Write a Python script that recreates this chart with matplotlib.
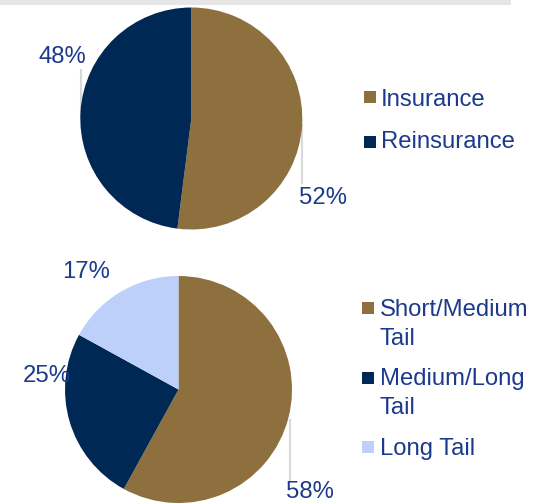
import matplotlib
matplotlib.use("Agg")
import matplotlib.pyplot as plt
from matplotlib.patches import Rectangle

plt.rcParams['font.family'] = ['Liberation Sans', 'DejaVu Sans']

# Data
top_labels = ["Insurance", "Reinsurance"]
top_values = [52, 48]
bottom_labels = ["Short/Medium\nTail", "Medium/Long\nTail", "Long Tail"]
bottom_values = [58, 25, 17]

BROWN = "#8E6F3E"
NAVY = "#002855"
LIGHT = "#BDD0FA"
TEXT = "#1C3A8C"
LINE = "#D9D9D9"

top_colors = [BROWN, NAVY]
bottom_colors = [BROWN, NAVY, LIGHT]

W, H = 539, 504
fig = plt.figure(figsize=(W / 100, H / 100), dpi=100)
ax = fig.add_axes([0, 0, 1, 1])

def Y(py):
    return H - py

# top gray band
ax.add_patch(Rectangle((0, Y(5)), 511, 5, color="#E6E6E6", lw=0, zorder=0))

# Top pie
ax.pie(top_values, colors=top_colors, startangle=90, counterclock=False,
       center=(191.3, Y(118.5)), radius=111, frame=True,
       wedgeprops=dict(linewidth=0))
# Bottom pie
ax.pie(bottom_values, colors=bottom_colors, startangle=90, counterclock=False,
       center=(178.5, Y(389.5)), radius=113.5, frame=True,
       wedgeprops=dict(linewidth=0))
ax.set_xlim(0, W)
ax.set_ylim(0, H)
ax.set_aspect('equal')
ax.axis('off')

# leader lines
ax.plot([80.5, 80.5], [Y(70), Y(112)], color=LINE, lw=1.5, zorder=0)
ax.plot([302, 302], [Y(125), Y(183)], color=LINE, lw=1.5, zorder=0)
ax.plot([290, 290], [Y(420), Y(480)], color=LINE, lw=1.5, zorder=0)

fs = 17.2
def pct(v, x, y):
    ax.text(x, Y(y), f"{v}%", ha='center', va='center', fontsize=fs, color=TEXT)

pct(top_values[1], 62.5, 57)
pct(top_values[0], 322.5, 198.5)
pct(bottom_values[2], 86, 272)
pct(bottom_values[1], 46.5, 376.5)
pct(bottom_values[0], 309.5, 492.5)

def legend_item(x_sq, y_sq_top, size, label, color, x_txt, first_baseline, spacing=28.5):
    ax.add_patch(Rectangle((x_sq, Y(y_sq_top + size)), size, size, color=color, lw=0))
    for i, ln in enumerate(label.split("\n")):
        ax.text(x_txt, Y(first_baseline + spacing * i), ln, ha='left', va='baseline',
                fontsize=fs, color=TEXT)

legend_item(364, 91, 12, top_labels[0], top_colors[0], 381, 106.5)
legend_item(364, 136, 12, top_labels[1], top_colors[1], 381, 148.5)

legend_item(362, 302, 12, bottom_labels[0], bottom_colors[0], 380, 316.5)
legend_item(362, 372, 12, bottom_labels[1], bottom_colors[1], 380, 385.5)
legend_item(362, 441, 12, bottom_labels[2], bottom_colors[2], 380, 455.5)

fig.savefig("out.png", dpi=100)
